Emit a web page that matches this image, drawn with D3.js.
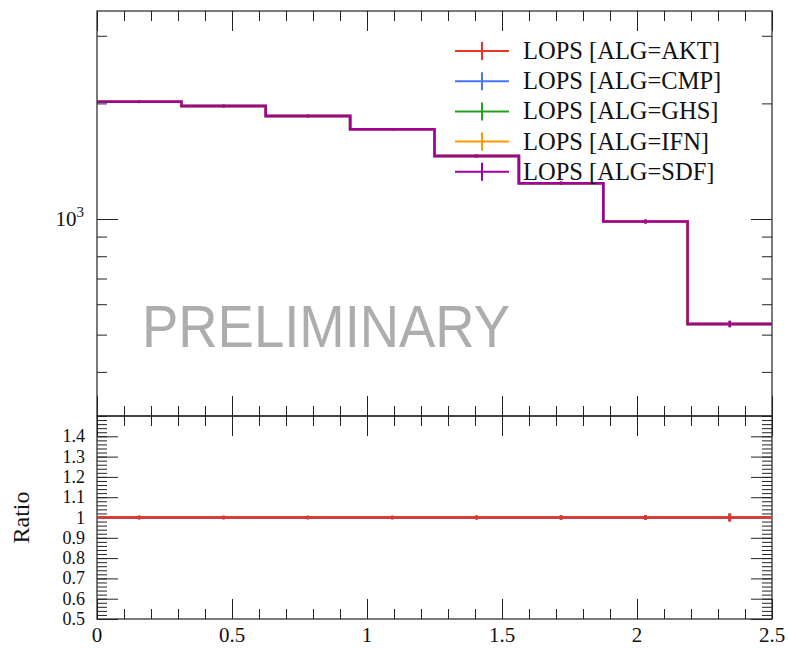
<!DOCTYPE html>
<html>
<head>
<meta charset="utf-8">
<script src="https://cdn.jsdelivr.net/npm/d3@7/dist/d3.min.js"></script>
<style>
  body { margin: 0; background: #fff; }
  text { font-family: "Liberation Serif", "DejaVu Serif", serif; fill: #111; }
</style>
</head>
<body>
<svg id="chart" width="788" height="648"></svg>
<script>
// data
var binEdges = [0, 0.3125, 0.625, 0.9375, 1.25, 1.5625, 1.875, 2.1875, 2.5];
var binValues = [2021, 1970, 1855, 1712, 1459, 1239, 985, 533];
var binErrors = [17, 16, 15, 14, 13, 12, 11, 10];
var ratioValues = [1, 1, 1, 1, 1, 1, 1, 1];
var seriesNames = ["LOPS [ALG=AKT]", "LOPS [ALG=CMP]", "LOPS [ALG=GHS]", "LOPS [ALG=IFN]", "LOPS [ALG=SDF]"];
var seriesColors = ["#ee3322", "#4477ff", "#22a022", "#ff9900", "#a000a0"];

var xTicksMajor = [0, 0.5, 1, 1.5, 2, 2.5];
var xTicksMinor = d3.range(0, 2.501, 0.1);
var yTicksMajor = [1000];
var yTicksMinor = [400, 500, 600, 700, 800, 900, 2000, 3000];
var ratioTicksMajor = [0.5, 0.6, 0.7, 0.8, 0.9, 1, 1.1, 1.2, 1.3, 1.4];
var ratioTicksMinor = d3.range(0.5, 1.501, 0.02);

var svg = d3.select("#chart");

var left = 97, right = 772;
var topY = 11, midY = 416, botY = 619;

var x = d3.scaleLinear().domain([0, 2.5]).range([left, right]);
var y = d3.scaleLog().domain([307, 3480]).range([midY, topY]);
var yr = d3.scaleLinear().domain([0.5, 1.5]).range([botY, midY]);

// watermark
svg.append("text")
  .attr("x", 142).attr("y", 347)
  .attr("textLength", 368).attr("lengthAdjust", "spacingAndGlyphs")
  .style("font-family", "'Liberation Sans', Arial, sans-serif")
  .style("font-size", "59px")
  .style("fill", "#adadad")
  .text("PRELIMINARY");

// helper to draw inward ticks on a panel
function ticks(g, scale, values, len, orient, pos) {
  var gen;
  if (orient == "left") gen = d3.axisRight(scale);
  if (orient == "right") gen = d3.axisLeft(scale);
  if (orient == "bottom") gen = d3.axisTop(scale);
  if (orient == "top") gen = d3.axisBottom(scale);
  gen.tickValues(values).tickSize(len).tickFormat("");
  var a = g.append("g")
    .attr("transform", (orient == "left" || orient == "right") ? "translate(" + pos + ",0)" : "translate(0," + pos + ")")
    .call(gen);
  a.select(".domain").remove();
  a.selectAll("line").attr("stroke", "#222").attr("stroke-width", 1);
}

var axes = svg.append("g");

// top panel ticks
ticks(axes, x, xTicksMinor, 10, "top", topY);
ticks(axes, x, xTicksMajor, 20, "top", topY);
ticks(axes, x, xTicksMinor, 10, "bottom", midY);
ticks(axes, x, xTicksMajor, 20, "bottom", midY);
ticks(axes, y, yTicksMinor, 10, "left", left);
ticks(axes, y, yTicksMajor, 21, "left", left);
ticks(axes, y, yTicksMinor, 10, "right", right);
ticks(axes, y, yTicksMajor, 21, "right", right);

// ratio panel ticks
ticks(axes, x, xTicksMinor, 10, "top", midY);
ticks(axes, x, xTicksMajor, 20, "top", midY);
ticks(axes, x, xTicksMinor, 10, "bottom", botY);
ticks(axes, x, xTicksMajor, 20, "bottom", botY);
ticks(axes, yr, ratioTicksMinor, 10, "left", left);
ticks(axes, yr, ratioTicksMajor, 21, "left", left);
ticks(axes, yr, ratioTicksMinor, 10, "right", right);
ticks(axes, yr, ratioTicksMajor, 21, "right", right);

// frames
svg.append("rect").attr("x", left).attr("y", topY)
  .attr("width", right - left).attr("height", midY - topY)
  .attr("fill", "none").attr("stroke", "#222").attr("stroke-width", 1.2);
svg.append("rect").attr("x", left).attr("y", midY)
  .attr("width", right - left).attr("height", botY - midY)
  .attr("fill", "none").attr("stroke", "#222").attr("stroke-width", 1.2);

// tick labels
yTicksMajor.forEach(function(d) {
  var t = svg.append("text")
    .attr("x", 84).attr("y", y(d) + 7)
    .attr("text-anchor", "end")
    .style("font-size", "21px");
  t.append("tspan").text("10");
  t.append("tspan").attr("dy", -9).style("font-size", "15px").text(Math.round(Math.log10(d)));
});

svg.selectAll(".rlab").data(ratioTicksMajor).enter().append("text")
  .attr("class", "rlab")
  .attr("x", 85).attr("y", function(d) { return yr(d) + 6; })
  .attr("text-anchor", "end")
  .style("font-size", "18px")
  .text(function(d) { return d == 1 ? "1" : d.toFixed(1); });

svg.selectAll(".xlab").data(xTicksMajor).enter().append("text")
  .attr("class", "xlab")
  .attr("x", function(d) { return x(d); }).attr("y", 642)
  .attr("text-anchor", "middle")
  .style("font-size", "21px")
  .text(function(d) { return d; });

svg.append("text")
  .attr("transform", "translate(29," + yr(1) + ") rotate(-90)")
  .attr("text-anchor", "middle")
  .style("font-size", "24px")
  .text("Ratio");

// histograms
var bins = binValues.map(function(v, i) {
  return { x0: binEdges[i], x1: binEdges[i + 1], v: v, e: binErrors[i], r: ratioValues[i], re: binErrors[i] / v };
});

function stepPath(yscale, key) {
  var p = "";
  bins.forEach(function(b, i) {
    p += (i == 0 ? "M" : "L") + x(b.x0) + "," + yscale(b[key]) + "L" + x(b.x1) + "," + yscale(b[key]);
  });
  return p;
}

var main = svg.append("g");
seriesNames.forEach(function(name, s) {
  main.append("path")
    .attr("d", stepPath(y, "v"))
    .attr("fill", "none")
    .attr("stroke", seriesColors[s])
    .attr("stroke-width", 2.5);
  main.selectAll(null).data(bins).enter().append("line")
    .attr("x1", function(b) { return x((b.x0 + b.x1) / 2); })
    .attr("x2", function(b) { return x((b.x0 + b.x1) / 2); })
    .attr("y1", function(b) { return y(b.v - b.e); })
    .attr("y2", function(b) { return y(b.v + b.e); })
    .attr("stroke", seriesColors[s])
    .attr("stroke-width", 2.5);
});

// ratio panel: reference (first series) drawn last
var ratio = svg.append("g");
seriesNames.slice().reverse().forEach(function(name, k) {
  var s = seriesNames.length - 1 - k;
  ratio.append("path")
    .attr("d", stepPath(yr, "r"))
    .attr("fill", "none")
    .attr("stroke", seriesColors[s])
    .attr("stroke-width", 2.5);
  ratio.selectAll(null).data(bins).enter().append("line")
    .attr("x1", function(b) { return x((b.x0 + b.x1) / 2); })
    .attr("x2", function(b) { return x((b.x0 + b.x1) / 2); })
    .attr("y1", function(b) { return yr(b.r - b.re); })
    .attr("y2", function(b) { return yr(b.r + b.re); })
    .attr("stroke", seriesColors[s])
    .attr("stroke-width", 2.5);
});

// legend
var legend = svg.append("g");
seriesNames.forEach(function(name, i) {
  var ly = 51 + i * 30.2;
  legend.append("line").attr("x1", 455).attr("x2", 509).attr("y1", ly).attr("y2", ly)
    .attr("stroke", seriesColors[i]).attr("stroke-width", 2);
  legend.append("line").attr("x1", 482).attr("x2", 482).attr("y1", ly - 9).attr("y2", ly + 9)
    .attr("stroke", seriesColors[i]).attr("stroke-width", 2);
  legend.append("text").attr("x", 523).attr("y", ly + 8)
    .style("font-size", "24.5px")
    .text(name);
});
</script>
</body>
</html>
